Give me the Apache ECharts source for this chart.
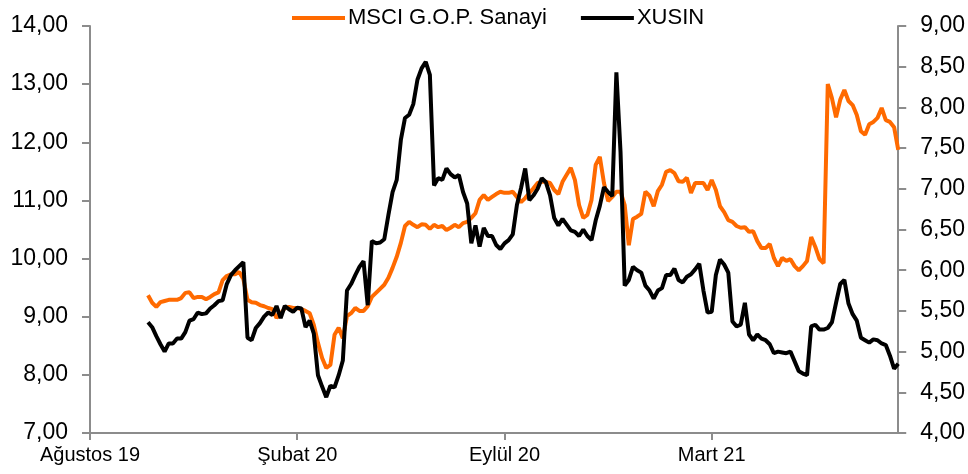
<!DOCTYPE html>
<html>
<head>
<meta charset="utf-8">
<script src="https://cdn.jsdelivr.net/npm/echarts@6/dist/echarts.min.js"></script>
</head>
<body style="margin:0;background:#fff">
<div id="chart" style="width:968px;height:474px"></div>
<script>
// tick labels sit every 50 points on the category axis
var tickLabels = ['Ağustos 19', 'Şubat 20', 'Eylül 20', 'Mart 21'];
var tickStep = 50;
var pointCount = 196;
var firstPoint = 14; // no data before this point

// MSCI G.O.P. Sanayi (left axis)
var msciSanayi = [
    9.37, 9.24, 9.17, 9.25, 9.27, 9.29, 9.29, 9.29, 9.32, 9.41,
    9.42, 9.32, 9.34, 9.34, 9.30, 9.34, 9.39, 9.42, 9.63, 9.70,
    9.73, 9.73, 9.77, 9.65, 9.29, 9.25, 9.24, 9.20, 9.18, 9.15,
    9.13, 8.98, 9.05, 9.15, 9.17, 9.15, 9.15, 9.13, 9.10, 9.06,
    8.86, 8.55, 8.29, 8.12, 8.17, 8.69, 8.81, 8.63, 9.01, 9.06,
    9.15, 9.10, 9.10, 9.18, 9.34, 9.41, 9.48, 9.55, 9.67, 9.84,
    10.03, 10.27, 10.56, 10.63, 10.58, 10.54, 10.59, 10.58, 10.51, 10.58,
    10.54, 10.56, 10.49, 10.53, 10.58, 10.54, 10.61, 10.63, 10.70, 10.78,
    11.01, 11.09, 11.01, 11.06, 11.11, 11.15, 11.13, 11.13, 11.15, 11.06,
    10.97, 11.04, 11.13, 11.21, 11.30, 11.32, 11.32, 11.30, 11.18, 11.11,
    11.32, 11.44, 11.56, 11.35, 10.92, 10.70, 10.75, 11.01, 11.61, 11.75,
    11.30, 10.99, 11.06, 11.15, 11.15, 10.92, 10.23, 10.68, 10.72, 10.77,
    11.15, 11.08, 10.90, 11.16, 11.27, 11.49, 11.52, 11.47, 11.33, 11.32,
    11.39, 11.13, 11.30, 11.30, 11.30, 11.18, 11.35, 11.18, 10.90, 10.80,
    10.66, 10.63, 10.56, 10.53, 10.54, 10.46, 10.47, 10.30, 10.18, 10.18,
    10.25, 10.01, 9.87, 10.01, 9.96, 9.99, 9.87, 9.80, 9.87, 9.96,
    10.37, 10.20, 9.99, 9.92, 13.00, 12.76, 12.43, 12.73, 12.90, 12.71,
    12.64, 12.47, 12.19, 12.13, 12.31, 12.35, 12.42, 12.59, 12.38, 12.35,
    12.26, 11.87
];

// XUSIN (right axis)
var xusin = [
    5.36, 5.30, 5.19, 5.09, 5.00, 5.10, 5.10, 5.16, 5.16, 5.24,
    5.38, 5.40, 5.48, 5.46, 5.47, 5.53, 5.57, 5.62, 5.63, 5.83,
    5.94, 6.00, 6.05, 6.10, 5.17, 5.14, 5.29, 5.35, 5.43, 5.48,
    5.45, 5.56, 5.41, 5.56, 5.52, 5.49, 5.54, 5.53, 5.30, 5.38,
    5.22, 4.71, 4.57, 4.44, 4.58, 4.56, 4.71, 4.89, 5.75, 5.83,
    5.94, 6.04, 6.11, 5.57, 6.36, 6.33, 6.34, 6.38, 6.68, 6.96,
    7.11, 7.60, 7.87, 7.91, 8.04, 8.34, 8.48, 8.56, 8.40, 7.04,
    7.13, 7.11, 7.25, 7.18, 7.14, 7.17, 6.96, 6.82, 6.33, 6.55,
    6.29, 6.52, 6.42, 6.42, 6.31, 6.26, 6.33, 6.37, 6.44, 6.80,
    7.01, 7.25, 6.86, 6.92, 7.00, 7.13, 7.08, 6.92, 6.64, 6.55,
    6.63, 6.56, 6.49, 6.47, 6.42, 6.50, 6.42, 6.37, 6.61, 6.79,
    7.02, 6.96, 6.91, 8.43, 7.45, 5.81, 5.88, 6.04, 6.00, 5.97,
    5.81, 5.75, 5.65, 5.75, 5.78, 5.94, 5.94, 6.02, 5.88, 5.85,
    5.92, 5.95, 6.01, 6.08, 5.75, 5.48, 5.49, 5.94, 6.13, 6.07,
    5.97, 5.37, 5.31, 5.33, 5.60, 5.21, 5.14, 5.21, 5.16, 5.14,
    5.09, 4.98, 5.00, 4.99, 4.98, 5.00, 4.88, 4.76, 4.73, 4.71,
    5.31, 5.33, 5.27, 5.27, 5.29, 5.36, 5.60, 5.83, 5.88, 5.59,
    5.46, 5.38, 5.17, 5.14, 5.11, 5.15, 5.14, 5.10, 5.08, 4.95,
    4.79, 4.85
];

var categories = [];
for (var i = 0; i < pointCount; i++) {
    categories.push(i % tickStep === 0 ? tickLabels[i / tickStep] : '');
}
var lead = [];
for (var j = 0; j < firstPoint; j++) lead.push(null);

function isTick(index) {
    return index % tickStep === 0;
}
function comma(v) {
    return v.toFixed(2).replace('.', ',');
}

var axisGrey = '#8c8c8c';
var myChart = echarts.init(document.getElementById('chart'));
myChart.setOption({
    animation: false,
    textStyle: { fontFamily: 'Liberation Sans' },
    grid: { left: 90, right: 68, top: 26, bottom: 41 },
    legend: {
        left: 287,
        top: 2,
        itemWidth: 53,
        itemHeight: 4,
        itemGap: 34,
        icon: 'rect',
        textStyle: { fontSize: 22, color: '#000', padding: [0, 0, 0, -2] },
        data: ['MSCI G.O.P. Sanayi', 'XUSIN']
    },
    xAxis: {
        type: 'category',
        boundaryGap: false,
        data: categories,
        axisLine: { lineStyle: { color: axisGrey, width: 2 } },
        axisTick: { interval: isTick, length: 7, lineStyle: { color: axisGrey, width: 2 } },
        axisLabel: { interval: isTick, fontSize: 20, color: '#000', margin: 12 },
        splitLine: { show: false }
    },
    yAxis: [{
        type: 'value',
        min: 7,
        max: 14,
        interval: 1,
        axisLine: { show: true, lineStyle: { color: axisGrey, width: 2 } },
        axisTick: { show: true, length: 8, lineStyle: { color: axisGrey, width: 2 } },
        axisLabel: { fontSize: 23, color: '#000', margin: 22, formatter: comma },
        splitLine: { show: false }
    }, {
        type: 'value',
        min: 4,
        max: 9,
        interval: 0.5,
        axisLine: { show: true, lineStyle: { color: axisGrey, width: 2 } },
        axisTick: { show: true, length: 8, lineStyle: { color: axisGrey, width: 2 } },
        axisLabel: { fontSize: 23, color: '#000', margin: 22, formatter: comma },
        splitLine: { show: false }
    }],
    series: [{
        name: 'MSCI G.O.P. Sanayi',
        type: 'line',
        yAxisIndex: 0,
        showSymbol: false,
        color: '#ff6a00',
        lineStyle: { width: 4, color: '#ff6a00' },
        data: lead.concat(msciSanayi)
    }, {
        name: 'XUSIN',
        type: 'line',
        yAxisIndex: 1,
        showSymbol: false,
        color: '#000',
        lineStyle: { width: 4, color: '#000' },
        data: lead.concat(xusin)
    }]
});
</script>
</body>
</html>
